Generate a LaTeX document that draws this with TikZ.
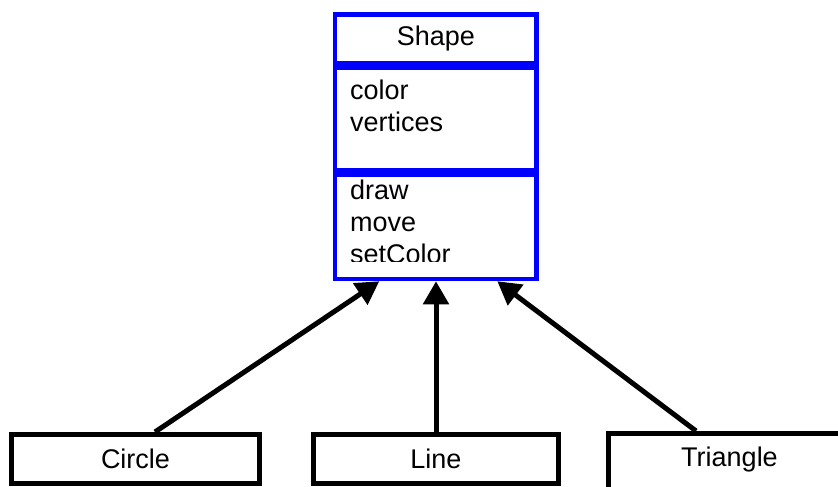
\documentclass[tikz,border=0pt]{standalone}
\usepackage{fontspec}
\setmainfont{Liberation Sans}
\usetikzlibrary{positioning}
\usetikzlibrary{arrows.meta}

\begin{document}
\begin{tikzpicture}[x = 1pt, y = -1pt,
	umlfont/.style = {font = \fontsize{27}{32}\selectfont},
	compartment/.style = {draw = blue, line width = 4.5pt, minimum width = 201.7pt, inner sep = 0pt, umlfont},
	members/.style = {anchor = base west, align = left, inner sep = 0pt, umlfont},
	subclass/.style = {draw = black, line width = 5pt, inner sep = 0pt, umlfont},
	inherit/.style = {black, line width = 5pt, -{Triangle[length = 23pt, width = 25pt]}}]
	\useasboundingbox (0, 0) rectangle (838, 487);
	\node [members] (attrlist) at (350, 131) {color\\vertices};
	\begin{scope}
		\clip (335, 166) rectangle (537, 261.7);
		\node [members] (oplist) at (350, 263) {draw\\move\\setColor};
	\end{scope}
	\node [compartment, minimum height = 48.8pt] (shapename) at (435.8, 38.9) {Shape};
	\node [compartment, minimum height = 102.5pt, below = 0pt of shapename] (shapeattrs) {};
	\node [compartment, minimum height = 104.2pt, below = 0pt of shapeattrs] (shapeops) {};
	\node [subclass, minimum width = 248pt, minimum height = 49pt] (circlebox) at (135.5, 459) {Circle};
	\node [subclass, minimum width = 245pt, minimum height = 49pt] (linebox) at (436, 459) {Line};
	\node [subclass, minimum width = 242pt, minimum height = 70pt, text height = 19pt, text depth = 24pt] (trianglebox) at (729.5, 468.5) {Triangle};
	\draw [inherit] ([xshift = 19.5pt] circlebox.north) -- ([xshift = -56.5pt] shapeops.south);
	\draw [inherit] (linebox.north) -- (linebox.north |- shapeops.south);
	\draw [inherit] ([xshift = -33.5pt] trianglebox.north) -- ([xshift = 61.5pt] shapeops.south);
\end{tikzpicture}
\end{document}
